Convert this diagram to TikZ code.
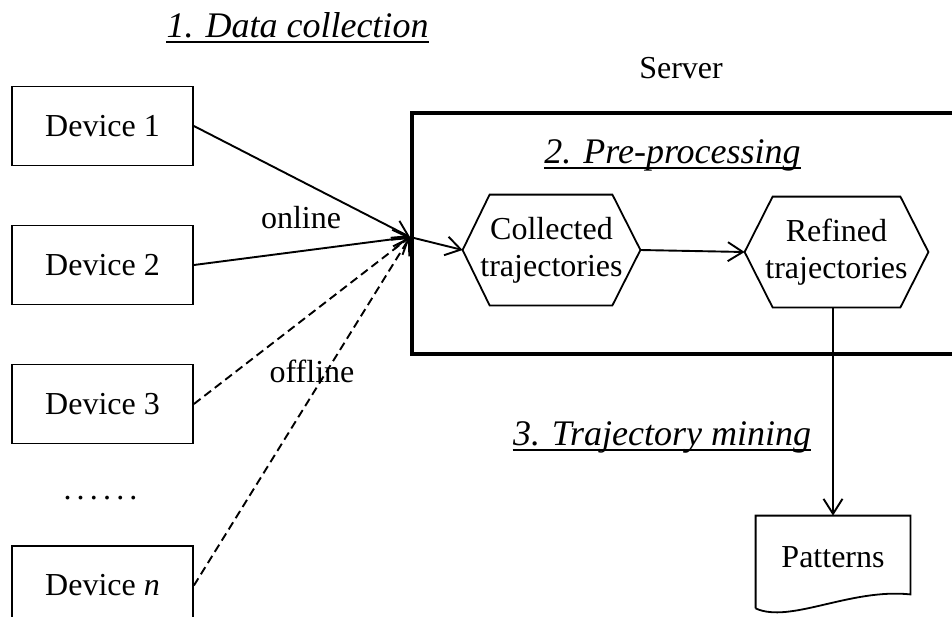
\documentclass[tikz,border=0pt]{standalone}
\usepackage{fontspec}
\setmainfont{Liberation Serif}
\usetikzlibrary{arrows.meta}
\begin{document}
\begin{tikzpicture}[x=0.5pt,y=-0.5pt,
  every node/.style={font=\fontsize{16}{18.5}\selectfont, inner sep=0pt},
  device/.style={draw, line width=0.9pt, minimum width=90.5pt, minimum height=39.5pt},
  hexbox/.style={align=center},
  title/.style={font=\fontsize{18}{21}\selectfont\itshape, anchor=base},
  plain/.style={anchor=base},
  outline/.style={line width=0.9pt},
  conn/.style={line width=0.95pt, -{Straight Barb[length=7.5pt,width=9.5pt]}},
  offl/.style={conn, dash pattern=on 4.2pt off 2.4pt},
  uline/.style={line width=0.9pt}
]
\useasboundingbox (0,0) rectangle (952,616);
\clip (0,0) rectangle (952,616);

% server frame
\draw[line width=2pt] (412,113) rectangle (990,354);

% section titles
\node[title] (t1) at (297.5,37) {1. Data collection};
\draw[uline] ([yshift=-2.5pt]t1.base west) -- ([yshift=-2.5pt]t1.base east);
\node[title] (t2) at (672.5,163) {2. Pre-processing};
\draw[uline] ([yshift=-2.5pt]t2.base west) -- ([yshift=-2.5pt]t2.base east);
\node[title] (t3) at (662,445) {3. Trajectory mining};
\draw[uline] ([yshift=-2.5pt]t3.base west) -- ([yshift=-2.5pt]t3.base east);
\node[plain] (srv) at (681,78) {Server};

% devices
\node[device] (d1) at (102.5,126) {Device 1};
\node[device] (d2) at (102.5,265) {Device 2};
\node[device] (d3) at (102.5,404) {Device 3};
\node[device] (dn) at (102.5,585.5) {Device \textit{n}};
\node (dots) at (100.5,498) {.\hspace{2.6pt}.\hspace{2.6pt}.\hspace{2.6pt}.\hspace{2.6pt}.\hspace{2.6pt}.};

% link labels
\node[plain] (on) at (301,228) {online};
\node[plain] (off) at (312,382) {offline};

% meeting point of the uploads
\coordinate (hub) at (410,237);

% trajectory stores
\node[hexbox, minimum width=88.5pt, minimum height=55pt] (col) at (551.5,250) {Collected\\trajectories};
\draw[outline] (col.west) -- ([xshift=13.5pt]col.north west) -- ([xshift=-14pt]col.north east)
  -- (col.east) -- ([xshift=-14pt]col.south east) -- ([xshift=13.5pt]col.south west) -- cycle;
\node[hexbox, minimum width=91.5pt, minimum height=55pt] (ref) at (836.5,252) {Refined\\trajectories};
\draw[outline] (ref.west) -- ([xshift=14pt]ref.north west) -- ([xshift=-14pt]ref.north east)
  -- (ref.east) -- ([xshift=-14pt]ref.south east) -- ([xshift=14pt]ref.south west) -- cycle;

% output document
\node[minimum width=77pt, minimum height=46pt] (pat) at (833,562) {};
\node (pattxt) at (833,557) {Patterns};
\draw[outline] (pat.south west) -- (pat.north west) -- (pat.north east) -- ([yshift=7pt]pat.south east)
  .. controls (850,588) and (790,624) .. (pat.south west);

% connectors
\draw[conn] (d1.east) -- (hub);
\draw[conn] (d2.east) -- (hub);
\draw[offl] (d3.east) -- (hub);
\draw[offl] (dn.east) -- (hub);
\draw[conn] (hub) -- (col.west);
\draw[conn] (col.east) -- (ref.west);
\draw[conn] (ref.south -| pat.north) -- (pat.north);
\end{tikzpicture}
\end{document}
